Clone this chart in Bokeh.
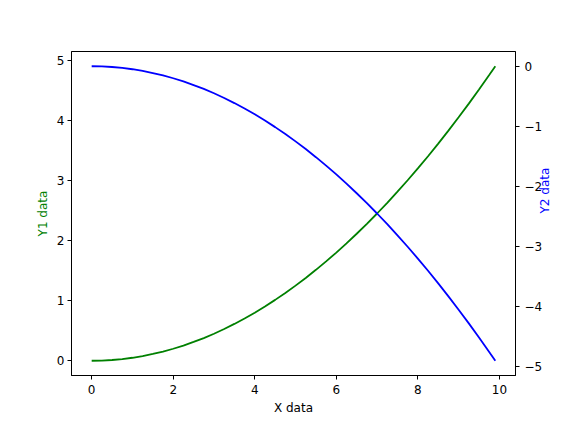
import math
from bokeh.plotting import figure
from bokeh.models import Range1d, LinearAxis, FixedTicker
from bokeh.embed import file_html
from bokeh.resources import INLINE

x_vals = [0, 0.25, 0.5, 0.75, 1, 1.25, 1.5, 1.75, 2, 2.25, 2.5, 2.75, 3, 3.25, 3.5, 3.75,
          4, 4.25, 4.5, 4.75, 5, 5.25, 5.5, 5.75, 6, 6.25, 6.5, 6.75, 7, 7.25, 7.5, 7.75,
          8, 8.25, 8.5, 8.75, 9, 9.25, 9.5, 9.75, 9.9]
y1_vals = [0, 0.003, 0.013, 0.028, 0.05, 0.078, 0.113, 0.153, 0.2, 0.253, 0.313, 0.378,
           0.45, 0.528, 0.613, 0.703, 0.8, 0.903, 1.013, 1.128, 1.25, 1.378, 1.513, 1.653,
           1.8, 1.953, 2.113, 2.278, 2.45, 2.628, 2.813, 3.003, 3.2, 3.403, 3.613, 3.828,
           4.05, 4.278, 4.513, 4.753, 4.9]
y2_vals = [0, -0.003, -0.013, -0.028, -0.05, -0.078, -0.113, -0.153, -0.2, -0.253, -0.313, -0.378,
           -0.45, -0.528, -0.613, -0.703, -0.8, -0.903, -1.013, -1.128, -1.25, -1.378, -1.513, -1.653,
           -1.8, -1.953, -2.113, -2.278, -2.45, -2.628, -2.813, -3.003, -3.2, -3.403, -3.613, -3.828,
           -4.05, -4.278, -4.513, -4.753, -4.9]
x_ticks = [0, 2, 4, 6, 8, 10]
y1_ticks = [0, 1, 2, 3, 4, 5]
y2_ticks = [-5, -4, -3, -2, -1, 0]

FONT = "DejaVu Sans"
FS = "12px"

p = figure(width=563, height=422, output_backend="svg", toolbar_location=None,
           x_range=Range1d(-0.495, 10.395), y_range=Range1d(-0.245, 5.145),
           min_border_left=71, min_border_right=48, min_border_top=51, min_border_bottom=47)
p.extra_y_ranges = {"y2": Range1d(-5.145, 0.245)}
p.xgrid.visible = False
p.ygrid.visible = False
p.outline_line_color = "black"
p.outline_line_alpha = 1
p.background_fill_color = "white"
p.border_fill_color = "white"

p.line(x_vals, y1_vals, line_color="#008000", line_width=1.8)
p.line(x_vals, y2_vals, line_color="#0000ff", line_width=1.8, y_range_name="y2")

right = LinearAxis(y_range_name="y2")
p.add_layout(right, "right")


def style(ax, ticks, label, color):
    ax.ticker = FixedTicker(ticks=ticks)
    ax.minor_tick_line_color = None
    ax.major_tick_out = 4
    ax.major_tick_in = 0
    ax.major_tick_line_color = "black"
    ax.axis_line_color = "black"
    ax.major_label_text_font = FONT
    ax.major_label_text_font_size = FS
    ax.major_label_text_color = "black"
    ax.axis_label = label
    ax.axis_label_text_font = FONT
    ax.axis_label_text_font_size = FS
    ax.axis_label_text_font_style = "normal"
    ax.axis_label_text_color = color
    ax.major_label_overrides = {t: (("\u2212" + str(-t)) if t < 0 else str(t)) for t in ticks}


style(p.xaxis[0], x_ticks, "X data", "black")
style(p.yaxis[0], y1_ticks, "Y1 data", "#008000")
style(right, y2_ticks, "Y2 data", "#0000ff")
p.xaxis[0].axis_label_standoff = 4
p.xaxis[0].major_label_standoff = 5
p.yaxis[0].axis_label_standoff = 4
p.yaxis[0].major_label_standoff = 3
right.major_label_standoff = 5
right.axis_label_standoff = 0
right.axis_label_orientation = math.pi / 2
right.axis_label_text_align = "center"
right.axis_label_text_baseline = "middle"

open("out.html", "w").write(file_html(p, INLINE))
